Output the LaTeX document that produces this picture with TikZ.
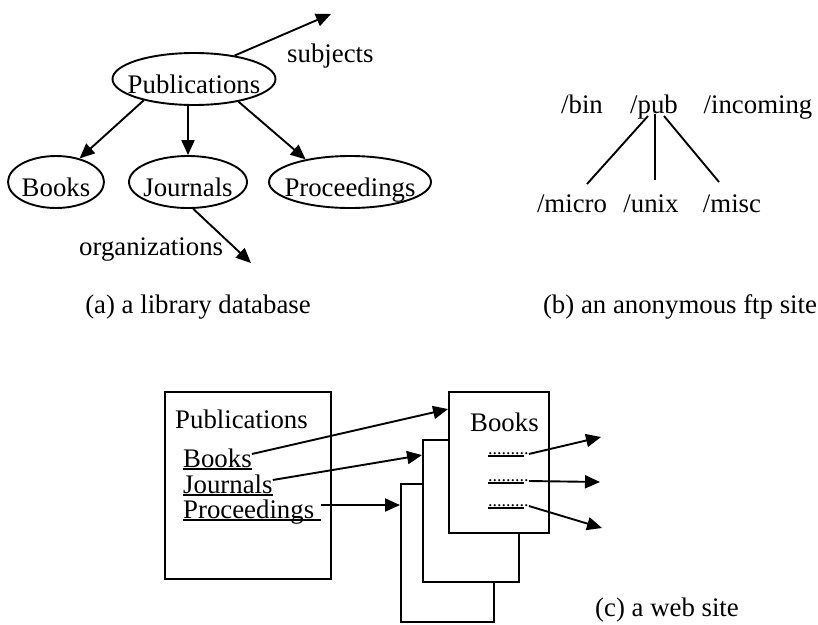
\documentclass[tikz,border=0pt]{standalone}
\usepackage{fontspec}
\setmainfont{Liberation Serif}
\usetikzlibrary{arrows.meta,positioning,shapes.geometric,calc}
\providecommand{\figfont}{\fontsize{26.8}{30}\selectfont}
\providecommand{\linkul}[1]{\setbox0\hbox{#1}\rlap{\rule[-2.5pt]{\wd0}{1.5pt}}\box0}

\tikzset{
  oval/.style={ellipse, draw, line width=1.9pt, inner sep=-40pt,
    text height=28pt, text depth=0pt, minimum height=52pt, minimum width=#1},
  txt/.style={inner sep=0pt, text height=26pt, text depth=0pt, anchor=base west},
  dotlink/.style={inner sep=0pt, text height=8pt, text depth=0pt, anchor=base west,
    font=\fontsize{18}{20}\selectfont},
  page/.style={draw, fill=white, line width=1.9pt, inner sep=0pt},
  arr/.style={-{Triangle[length=15pt,width=13pt]}, line width=1.9pt},
  tie/.style={line width=1.9pt}
}

\begin{document}
\begin{tikzpicture}[x=1pt, y=-1pt, font=\figfont]
  \useasboundingbox (0,0) rectangle (818,624);

  % (a) library database
  \node[oval=163pt] (pub) at (194,79) {Publications};
  \node[oval=96pt] (books) at (56,182) {Books};
  \node[oval=118pt] (jour) at (188,182) {Journals};
  \node[oval=162pt] (proc) at (350,182) {Proceedings};
  \coordinate (subjtip) at (331,14);
  \coordinate (orgtip) at (251,263);
  \node[txt] (subj) at (287,62) {subjects};
  \node[txt] (org) at (79,255) {organizations};
  \draw[arr] (pub.203) -- (books.45);
  \draw[arr] (pub.south -| jour.north) -- (jour.north);
  \draw[arr] (pub.333) -- (proc.153);
  \draw[arr] (pub.30) -- (subjtip);
  \draw[arr] (jour.281) -- (orgtip);
  \node[anchor=base] (capa) at (198,313) {(a) a library database};

  % (b) ftp site
  \node[anchor=base] (bin) at (582,113) {/bin};
  \node[anchor=base] (fpub) at (654,113) {/pub};
  \node[anchor=base] (inc) at (758,113) {/incoming};
  \node[anchor=base] (micro) at (572,212) {/micro};
  \node[anchor=base] (unix) at (651,212) {/unix};
  \node[anchor=base] (misc) at (732,212) {/misc};
  \draw[tie] ([xshift=-6pt,yshift=-3pt]fpub.base) -- ([xshift=15pt,yshift=28pt]micro.base);
  \draw[tie] ([xshift=1pt,yshift=-1pt]fpub.base) -- ([xshift=4pt,yshift=32pt]unix.base);
  \draw[tie] ([xshift=10pt,yshift=-3pt]fpub.base) -- ([xshift=-13pt,yshift=30pt]misc.base);
  \node[anchor=base] (capb) at (680,313) {(b) an anonymous ftp site};

  % (c) web site
  \node[page, minimum width=166pt, minimum height=187pt] (pubbox) at (248,485.5) {};
  \node[txt] (pubtitle) at (175,428) {Publications};
  \node[txt] (lbooks) at (183,467) {\linkul{Books}};
  \node[txt] (ljour) at (183,493) {\linkul{Journals}};
  \node[txt] (lproc) at (183,518) {\linkul{Proceedings\ }};
  \node[page, minimum width=93pt, minimum height=138pt] (pg3) at (447.5,553) {};
  \node[page, minimum width=96pt, minimum height=142pt] (pg2) at (471,511) {};
  \node[page, minimum width=100pt, minimum height=141pt] (pg1) at (499,462.5) {};
  \node[txt] (pgtitle) at (470,431) {Books};
  \node[dotlink] (dots1) at (488,454) {\linkul{........}.};
  \node[dotlink] (dots2) at (488,481) {\linkul{........}.};
  \node[dotlink] (dots3) at (488,506) {\linkul{........}.};
  \coordinate (out1) at (601,437);
  \coordinate (out2) at (600,482);
  \coordinate (out3) at (602,528);
  \draw[arr] (lbooks.east) -- ([yshift=-18pt]pg1.north west);
  \draw[arr] (ljour.east) -- ([yshift=-16pt]pg2.north west);
  \draw[arr] (lproc.east) -- (lproc.east -| pg3.west);
  \draw[arr] (dots1.base east) -- (out1);
  \draw[arr] (dots2.base east) -- (out2);
  \draw[arr] (dots3.base east) -- (out3);
  \node[anchor=base] (capc) at (667,616) {(c) a web site};
\end{tikzpicture}
\end{document}
